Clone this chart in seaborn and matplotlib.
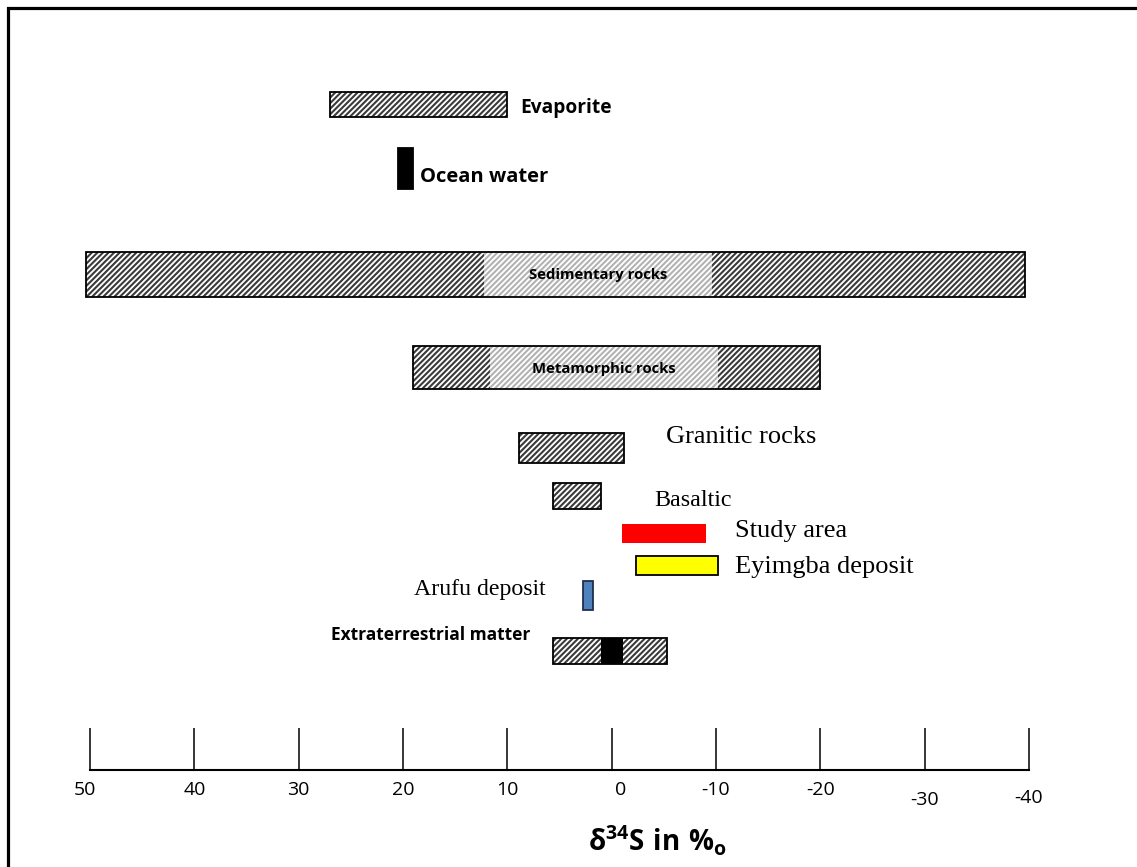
import matplotlib
matplotlib.use("Agg")
import matplotlib.pyplot as plt
from matplotlib.patches import Rectangle
from matplotlib.transforms import ScaledTranslation
import seaborn as sns

# sulfur isotope ranges, delta 34S in per mil (high end first, axis runs 50 -> -40)
groups = ["Evaporite", "Ocean water", "Sedimentary rocks", "Metamorphic rocks",
          "Granitic rocks", "Basaltic", "Study area", "Eyimgba deposit",
          "Arufu deposit", "Extraterrestrial matter"]
range_hi = [27.0, 20.5, 50.4, 19.0, 8.9, 5.6, -1.0, -2.3, 2.7, 5.6]
range_lo = [10.0, 19.0, -39.6, -20.0, -1.2, 1.0, -9.0, -10.2, 1.8, -5.3]

# lighter middle part of the two wide bars
core_groups = ["Sedimentary rocks", "Metamorphic rocks"]
core_hi = [12.2, 11.7]
core_lo = [-9.6, -10.2]

# solid centre of the extraterrestrial bar
meteor_hi = [1.0]
meteor_lo = [-1.1]

tick_values = [50, 40, 30, 20, 10, 0, -10, -20, -30, -40]

# ---- layout (rows measured from the top of the frame) ----
row_y = {"Evaporite": 104.5, "Ocean water": 168.5, "Sedimentary rocks": 274.5,
         "Metamorphic rocks": 367.5, "Granitic rocks": 448, "Basaltic": 496,
         "Study area": 533.5, "Eyimgba deposit": 565.5, "Arufu deposit": 595.5,
         "Extraterrestrial matter": 651}
row_h = {"Evaporite": 25, "Ocean water": 41, "Sedimentary rocks": 45,
         "Metamorphic rocks": 43, "Granitic rocks": 30, "Basaltic": 26,
         "Study area": 19, "Eyimgba deposit": 19, "Arufu deposit": 29,
         "Extraterrestrial matter": 26}
fill = {"Ocean water": ("black", "black"), "Study area": ("#ff0000", "none"),
        "Eyimgba deposit": ("#ffff00", "black"), "Arufu deposit": ("#4f81bd", "#1f2f4f")}

# label: x (data), y (row), ha, family, weight, size
SANS = ["Open Sans", "DejaVu Sans"]
SERIF = ["Liberation Serif", "DejaVu Serif"]
label_pos = {
    "Evaporite": (8.8, 108, "left", SANS, "bold", 13.8),
    "Ocean water": (18.4, 177, "left", SANS, "bold", 14.5),
    "Sedimentary rocks": (1.3, 275, "center", SANS, "bold", 10.7),
    "Metamorphic rocks": (0.7, 369, "center", SANS, "bold", 10.7),
    "Granitic rocks": (-5.2, 437, "left", SERIF, "normal", 19),
    "Basaltic": (-4.1, 500, "left", SERIF, "normal", 17.3),
    "Study area": (-11.8, 531, "left", SERIF, "normal", 19),
    "Eyimgba deposit": (-11.8, 567, "left", SERIF, "normal", 19),
    "Arufu deposit": (18.9, 589, "left", SERIF, "normal", 17.2),
    "Extraterrestrial matter": (26.9, 635, "left", SANS, "bold", 12.5),
}

sns.set_theme(style="white")
plt.rcParams["font.family"] = SANS
plt.rcParams["hatch.linewidth"] = 1.5
plt.rcParams["mathtext.fontset"] = "custom"
plt.rcParams["mathtext.bf"] = "Open Sans:bold"
plt.rcParams["mathtext.rm"] = "Open Sans:bold"
plt.rcParams["mathtext.it"] = "Open Sans:bold"
plt.rcParams["mathtext.default"] = "bf"

W, H = 1137, 867
fig = plt.figure(figsize=(W / 100, H / 100), dpi=100)
fig.patch.set_facecolor("white")
ax = fig.add_axes([90 / W, (H - 770) / H, (1029 - 90) / W, 770 / H])
ax.set_xlim(50, -40)
ax.set_ylim(770, 0)

HATCH = "//////"
for g, hi, lo in zip(groups, range_hi, range_lo):
    y, h = row_y[g], row_h[g]
    if g in fill:
        fc, ec = fill[g]
        ax.barh(y, lo - hi, left=hi, height=h, color=fc, edgecolor=ec,
                linewidth=1.3 if ec != "none" else 0, clip_on=False)
        continue
    ax.barh(y, lo - hi, left=hi, height=h, color="white", edgecolor="#3a3a3a",
            hatch=HATCH, linewidth=0, clip_on=False)
    if g in core_groups:
        i = core_groups.index(g)
        ax.barh(y, core_lo[i] - core_hi[i], left=core_hi[i], height=h, color="white",
                edgecolor="#b2b2b2", hatch=HATCH, linewidth=0, clip_on=False)
    if g == "Extraterrestrial matter":
        ax.barh(y, meteor_lo[0] - meteor_hi[0], left=meteor_hi[0], height=h,
                color="black", linewidth=0, clip_on=False)
    ax.barh(y, lo - hi, left=hi, height=h, facecolor="none", edgecolor="black",
            linewidth=1.3, clip_on=False)

for g, (x, y, ha, fam, wt, sz) in label_pos.items():
    ax.text(x, y, g, ha=ha, va="center", family=fam, fontweight=wt, fontsize=sz,
            color="black")

# axis
sns.despine(ax=ax, left=True)
ax.set_yticks([])
ax.spines["bottom"].set_color("black")
ax.spines["bottom"].set_linewidth(1.5)
ax.tick_params(axis="x", direction="in", length=30, width=1.1, color="black",
               labelsize=14, pad=8, labelcolor="black", bottom=True)
ax.set_xticks(tick_values)
ax.set_xticklabels([str(t) for t in tick_values])
shift = {50: (-5, 0), 0: (9, 0), -30: (0, -10), -40: (0, -8)}
for t, lbl in zip(tick_values, ax.get_xticklabels()):
    if t in shift:
        dx, dy = shift[t]
        lbl.set_transform(lbl.get_transform() +
                          ScaledTranslation(dx / 100, dy / 100, fig.dpi_scale_trans))

ax.text(-4.4, 841, r"$\delta^{34}S\ in\ \%_{o}$", ha="center", va="center",
        fontsize=20, color="black")

# outer frame (only left and top edges fall inside the picture)
fig.add_artist(Rectangle((8 / W, -0.2), 1.5, 1.2 - 8 / H, transform=fig.transFigure,
                         facecolor="none", edgecolor="black", linewidth=2.3))

fig.savefig("out.png", dpi=100)
